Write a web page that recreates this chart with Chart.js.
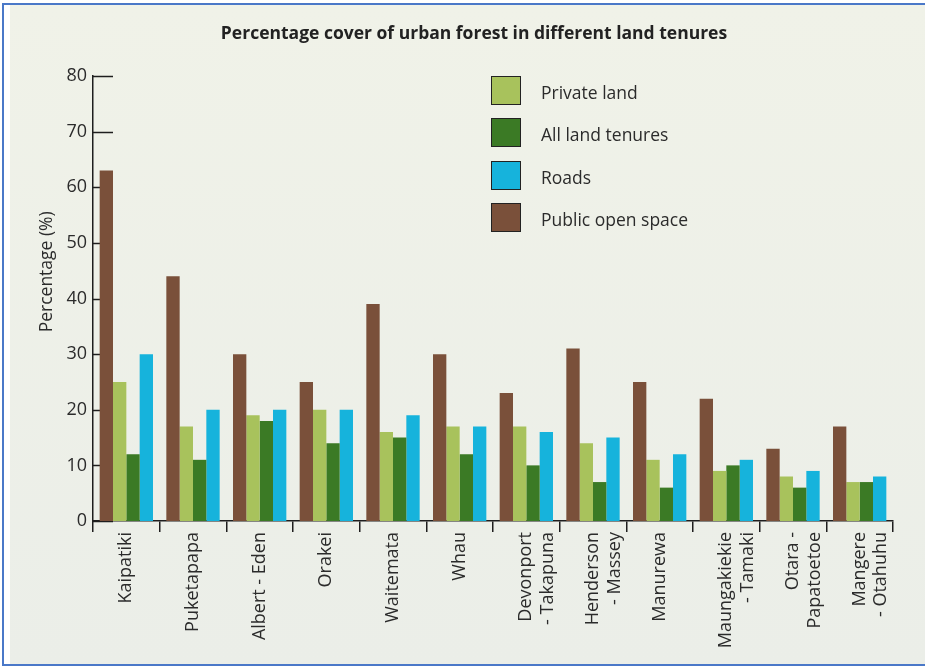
<!DOCTYPE html>
<html>
<head>
<meta charset="utf-8">
<script src="https://cdn.jsdelivr.net/npm/chart.js@4"></script>
<style>
html,body{margin:0;padding:0;width:925px;height:666px;overflow:hidden;background:#fff;position:relative;}
#frame{position:absolute;left:2px;top:3px;width:940px;height:663px;border-left:2px solid #4a78c8;border-top:2px solid #4a78c8;border-bottom:2px solid #4a78c8;box-sizing:border-box;background:#fff;}
#panel{position:absolute;left:6px;top:0;right:0;bottom:0;background:linear-gradient(#f0f2e8,#ebeee8);}
#chart{position:absolute;left:0;top:0;}
#legend{position:absolute;left:491px;top:76px;font-family:'Open Sans',sans-serif;font-size:17.5px;color:#2b2b2b;}
.item{position:absolute;left:0;height:30px;white-space:nowrap;}
.box{position:absolute;left:0;top:0;width:30px;height:29px;box-sizing:border-box;border:1.5px solid #222;}
.lab{position:absolute;left:50px;top:5px;line-height:22px;}
</style>
</head>
<body>
<div id="frame"><div id="panel"></div></div>
<canvas id="chart" width="925" height="666"></canvas>
<div id="legend"></div>
<script>
const categories = [["Kaipatiki"],["Puketapapa"],["Albert - Eden"],["Orakei"],["Waitemata"],["Whau"],["Devonport","- Takapuna"],["Henderson","- Massey"],["Manurewa"],["Maungakiekie","- Tamaki"],["Otara -","Papatoetoe"],["Mangere","- Otahuhu"]];
const seriesNames = ["Public open space","Private land","All land tenures","Roads"];
const publicOpenSpace = [63,44,30,25,39,30,23,31,25,22,13,17];
const privateLand = [25,17,19,20,16,17,17,14,11,9,8,7];
const allLandTenures = [12,11,18,14,15,12,10,7,6,10,6,7];
const roads = [30,20,20,20,19,17,16,15,12,11,9,8];
const yTicks = [0,10,20,30,40,50,60,70,80];
const legendOrder = ["Private land","All land tenures","Roads","Public open space"];
const titleText = "Percentage cover of urban forest in different land tenures";
const yTitleText = "Percentage (%)";

const colors = {"Public open space":"#7a503a","Private land":"#a8c25c","All land tenures":"#3b7a25","Roads":"#16b3dc"};
const values = [publicOpenSpace, privateLand, allLandTenures, roads];

const datasets = seriesNames.map((n,i)=>({label:n,data:values[i],backgroundColor:colors[n],borderWidth:0,barPercentage:1.0,categoryPercentage:0.8}));

const FONT = "'Open Sans', sans-serif";

const innerTicks = {
  id:'innerTicks',
  beforeDatasetsDraw(chart){
    const y = chart.scales.y, ca = chart.chartArea, ctx = chart.ctx;
    ctx.save();
    ctx.strokeStyle = '#1e1e1e'; ctx.lineWidth = 1.5;
    y.ticks.forEach(t=>{
      const py = Math.round(y.getPixelForValue(t.value))+0.5;
      ctx.beginPath(); ctx.moveTo(ca.left, py); ctx.lineTo(ca.left+20, py); ctx.stroke();
    });
    ctx.restore();
  }
};
const titles = {
  id:'titles',
  afterDraw(chart){
    const ctx = chart.ctx, ca = chart.chartArea;
    ctx.save();
    ctx.fillStyle = '#222';
    ctx.font = "bold 17.5px " + FONT;
    ctx.textAlign = 'center'; ctx.textBaseline = 'middle';
    ctx.fillText(titleText, 474, 34);
    ctx.translate(47, ca.top + (ca.bottom-ca.top)*0.44);
    ctx.rotate(-Math.PI/2);
    ctx.font = "17.5px " + FONT;
    ctx.fillStyle = '#2b2b2b';
    ctx.fillText(yTitleText, 0, 0);
    ctx.restore();
  }
};

const chart = new Chart(document.getElementById('chart'), {
  type:'bar',
  data:{labels:categories, datasets},
  options:{
    responsive:false, animation:false,
    layout:{padding:{top:76,right:32,left:0,bottom:0}},
    plugins:{legend:{display:false}, title:{display:false}, tooltip:{enabled:false}},
    scales:{
      x:{
        grid:{offset:true, drawOnChartArea:false, drawTicks:true, tickLength:11, color:'#1e1e1e', lineWidth:1.5},
        border:{display:true, color:'#1e1e1e', width:1.5},
        ticks:{minRotation:90, maxRotation:90, autoSkip:false, padding:0, color:'#2b2b2b', font:{family:FONT, size:18}},
        afterFit(s){ s.height = 145; }
      },
      y:{
        min:0, max:80,
        afterBuildTicks(s){ s.ticks = yTicks.map(v=>({value:v})); },
        grid:{display:false, drawTicks:false},
        border:{display:true, color:'#1e1e1e', width:1.5},
        ticks:{padding:6, color:'#2b2b2b', font:{family:FONT, size:18}},
        afterFit(s){ s.width = 93; }
      }
    }
  },
  plugins:[innerTicks, titles]
});

const legend = document.getElementById('legend');
legendOrder.forEach((name,i)=>{
  const it = document.createElement('div'); it.className='item'; it.style.top = (i*42.3)+'px';
  const b = document.createElement('div'); b.className='box'; b.style.background = colors[name];
  const l = document.createElement('div'); l.className='lab'; l.textContent = name;
  it.appendChild(b); it.appendChild(l); legend.appendChild(it);
});
</script>
</body>
</html>
